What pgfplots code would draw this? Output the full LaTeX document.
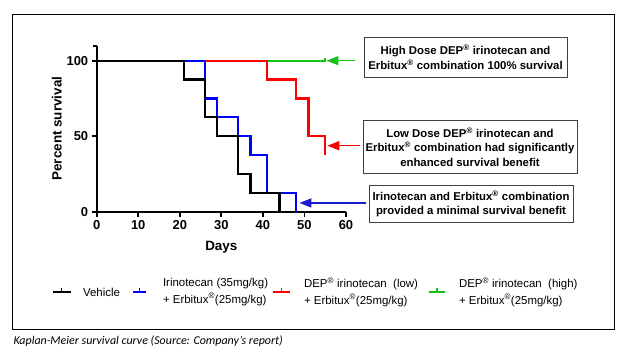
\documentclass[border=0pt]{standalone}
\usepackage{fontspec}
\setmainfont{Liberation Sans}
\newfontfamily\capfont{Carlito}
\usepackage{pgfplots}
\pgfplotsset{compat=1.18}
\usetikzlibrary{arrows.meta}
\definecolor{kmgreen}{RGB}{20,195,20}
\definecolor{kmblue}{RGB}{0,0,255}
\definecolor{kmred}{RGB}{255,0,0}
\definecolor{arrblue}{RGB}{25,25,205}
\newcommand{\reg}{\textsuperscript{\textregistered}}
\begin{document}
\begin{tikzpicture}
\useasboundingbox (0bp,0bp) rectangle (624bp,-352bp);
\begin{axis}[
  at={(96.7bp,-211.7bp)}, anchor=origin,
  scale only axis, width=249.3bp, height=166.1bp,
  xmin=0, xmax=60, ymin=0, ymax=110,
  axis x line*=bottom, axis y line*=left,
  axis line style={line width=1.8bp, black},
  xtick={0,10,...,60}, ytick={0,50,100},
  minor ytick={110},
  tick align=outside, major tick length=5bp, minor tick length=4bp,
  tick style={line width=1.8bp, black},
  /pgf/number format/assume math mode=true,
  ticklabel style={font=\fontsize{13}{13}\selectfont\bfseries},
  xlabel={Days}, ylabel={Percent survival},
  label style={font=\fontsize{13.5}{14}\selectfont\bfseries},
  xlabel style={yshift=-5bp},
  ylabel style={yshift=-2bp},
  clip=false,
]
\addplot[kmgreen, line width=2.3bp, const plot] coordinates {(0,100) (55,102)};
\addplot[kmred, line width=2.3bp, const plot] coordinates {(0,100) (41,87.5) (48,75) (51,50) (55,37.5)};
\addplot[kmblue, line width=2.3bp, const plot] coordinates {(0,100) (26,75) (29,62.5) (34,50) (37,37.5) (41,12.5) (48,0)};
\addplot[black, line width=2.3bp, const plot] coordinates {(0,100) (21,87.5) (26,62.5) (29,50) (34,25) (37,12.5) (44,0)};
\draw[kmgreen, line width=1.5bp, -{Triangle[length=12bp,width=9bp]}] (axis cs:62.2,100) -- (axis cs:55.3,100);
\draw[kmred, line width=1.5bp, -{Triangle[length=12bp,width=9bp]}] (axis cs:63.4,43.7) -- (axis cs:55.5,43.7);
\draw[arrblue, line width=1.5bp, -{Triangle[length=12bp,width=9bp]}] (axis cs:64.8,5.8) -- (axis cs:48.8,5.8);
\end{axis}
\begin{scope}[x=1bp,y=-1bp]
\draw[line width=0.8bp] (12,14) rectangle (614,329);
% annotation boxes
\draw[black!75, line width=1bp] (364,37) rectangle (567,77);
\node[font=\fontsize{11.4}{15}\selectfont\bfseries, align=center] at (465.5,57.5)
  {High Dose DEP\reg{} irinotecan and\\Erbitux\reg{} combination 100\% survival};
\draw[black!75, line width=1bp] (363,120) rectangle (577,173);
\node[font=\fontsize{11.4}{14.5}\selectfont\bfseries, align=center] at (470,147)
  {Low Dose DEP\reg{} irinotecan and\\Erbitux\reg{} combination had significantly\\enhanced survival benefit};
\draw[black!75, line width=1bp] (369,185) rectangle (573,222);
\node[font=\fontsize{11.4}{14.5}\selectfont\bfseries, align=center] at (471,204)
  {Irinotecan and Erbitux\reg{} combination\\provided a minimal survival benefit};
% legend
\foreach \xa/\xb/\c in {52.7/70.7/black, 133.3/146/kmblue, 273/290/kmred, 428.6/445.4/kmgreen}{
  \draw[\c, line width=2.2bp] (\xa,292) -- (\xb,292);
  \draw[\c, line width=1.4bp] ({(\xa+\xb)/2},292) -- ({(\xa+\xb)/2},288);
}
\node[font=\fontsize{11.5}{16.5}\selectfont, anchor=west] at (79.5,292) {Vehicle};
\node[font=\fontsize{11.5}{16.5}\selectfont, anchor=west, align=left] at (159.5,292)
  {Irinotecan (35mg/kg)\\+ Erbitux\reg(25mg/kg)};
\node[font=\fontsize{11.5}{16.5}\selectfont, anchor=west, align=left] at (300.5,292)
  {DEP\reg{} irinotecan\ \ (low)\\+ Erbitux\reg(25mg/kg)};
\node[font=\fontsize{11.5}{16.5}\selectfont, anchor=west, align=left] at (455.5,292)
  {DEP\reg{} irinotecan\ \ (high)\\+ Erbitux\reg(25mg/kg)};
\node[font=\capfont\itshape\fontsize{12}{13}\selectfont, anchor=west] at (10,341)
  {Kaplan-Meier survival curve (Source: Company’s report)};
\end{scope}
\end{tikzpicture}
\end{document}
